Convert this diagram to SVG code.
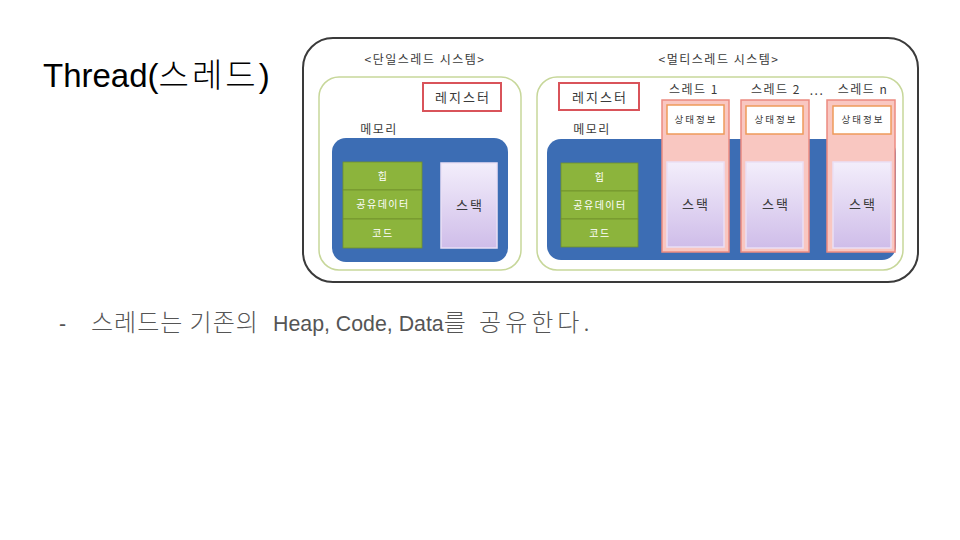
<svg xmlns="http://www.w3.org/2000/svg" width="960" height="540" viewBox="0 0 960 540">
<defs>
<linearGradient id="stk" x1="0" y1="0" x2="0" y2="1">
<stop offset="0" stop-color="#f3eefb"/>
<stop offset="1" stop-color="#cfbde9"/>
</linearGradient>
<style>
.k{font-family:"Noto Sans CJK KR","Noto Sans",sans-serif;}
.lbl{font-size:12px;fill:#3a3a3a;text-anchor:middle;letter-spacing:1.5px;}
.wt{font-size:10px;fill:#fff;text-anchor:middle;letter-spacing:1.5px;}
.outer{fill:#fff;stroke:#3a3a3a;stroke-width:2;}
.inner{fill:#fff;stroke:#c7d79a;stroke-width:1.5;}
.reg{fill:#fff;stroke:#d9535a;stroke-width:2;}
.mem{fill:#3c6db4;}
.grn{fill:#8cb43c;stroke:#6f8f2c;stroke-width:0.8;}
.stack{fill:url(#stk);stroke:#eadff5;stroke-width:1.5;}
.col{fill:#f9c7c1;stroke:#ec8b80;stroke-width:1.5;}
.st{fill:#fff;stroke:#ee9a5a;stroke-width:1.5;}
.big{font-size:13px;letter-spacing:2px;}
.sm{font-size:9.5px;letter-spacing:2px;}
.kb{font-family:"Noto Sans CJK KR",sans-serif;font-weight:300;font-size:24px;}
</style>
</defs>
<rect width="960" height="540" fill="#fff"/>
<g id="title"><text x="43" y="87" font-family="Liberation Sans, Arial, sans-serif" font-size="33" fill="#000">Thread(<tspan font-family="Noto Sans CJK KR, sans-serif" font-weight="300" letter-spacing="3">스레드</tspan>)</text></g>
<g id="outer"><rect class="outer" x="303" y="38" width="615" height="244" rx="30"/></g>
<g id="single">
<text class="k lbl" x="425" y="64" letter-spacing="2.5">&lt;단일스레드 시스템&gt;</text>
<rect class="inner" x="319" y="77" width="202" height="193" rx="20"/>
<g id="s-reg"><rect class="reg" x="423" y="83" width="78" height="28"/><text class="k lbl big" x="463" y="102">레지스터</text></g>
<text class="k lbl" x="379" y="134">메모리</text>
<g id="s-mem">
<rect class="mem" x="332" y="138" width="176" height="124" rx="14"/>
<rect class="grn" x="343" y="162" width="79" height="28"/>
<rect class="grn" x="343" y="190" width="79" height="29"/>
<rect class="grn" x="343" y="219" width="79" height="29"/>
<text class="k wt" x="383" y="180">힙</text>
<text class="k wt" x="383" y="208">공유데이터</text>
<text class="k wt" x="383" y="237">코드</text>
<rect class="stack" x="441" y="163" width="56" height="85"/>
<text class="k lbl big" x="470" y="210">스택</text>
</g>
</g>
<g id="multi">
<text class="k lbl" x="719" y="64" letter-spacing="2.5">&lt;멀티스레드 시스템&gt;</text>
<rect class="inner" x="537" y="77" width="366" height="193" rx="20"/>
<g id="m-reg"><rect class="reg" x="559" y="83" width="80" height="27"/><text class="k lbl big" x="600" y="102">레지스터</text></g>
<text class="k lbl" x="592" y="134">메모리</text>
<g id="m-mem">
<rect class="mem" x="547" y="139" width="349" height="121" rx="14"/>
<rect class="grn" x="561" y="163" width="77" height="28"/>
<rect class="grn" x="561" y="191" width="77" height="28"/>
<rect class="grn" x="561" y="219" width="77" height="28"/>
<text class="k wt" x="600" y="181">힙</text>
<text class="k wt" x="600" y="209">공유데이터</text>
<text class="k wt" x="600" y="237">코드</text>
</g>
<g id="thread1">
<text class="k lbl" x="694" y="94">스레드 1</text>
<rect class="col" x="662" y="100" width="67" height="152"/>
<rect class="st" x="667" y="105" width="57" height="29"/>
<text class="k lbl sm" x="696" y="123">상태정보</text>
<rect class="stack" x="667" y="162" width="57" height="85"/>
<text class="k lbl big" x="696" y="209">스택</text>
</g>
<g id="thread2">
<text class="k lbl" x="776" y="94">스레드 2</text>
<rect class="col" x="741" y="100" width="68" height="152"/>
<rect class="st" x="746" y="106" width="57" height="28"/>
<text class="k lbl sm" x="776" y="123">상태정보</text>
<rect class="stack" x="746" y="162" width="57" height="86"/>
<text class="k lbl big" x="776" y="209">스택</text>
</g>
<text class="k lbl" x="817" y="95" letter-spacing="0">...</text>
<g id="threadn">
<text class="k lbl" x="863" y="94">스레드 n</text>
<rect class="col" x="827" y="100" width="68" height="152"/>
<rect class="st" x="833" y="106" width="58" height="28"/>
<text class="k lbl sm" x="863" y="123">상태정보</text>
<rect class="stack" x="833" y="162" width="58" height="86"/>
<text class="k lbl big" x="863" y="209">스택</text>
</g>
</g>
<g id="bullet">
<text x="59" y="331" font-family="Liberation Sans, Arial, sans-serif" font-size="21.33" fill="#555">-</text>
<text y="331" font-family="Liberation Sans, Arial, &quot;Noto Sans CJK KR&quot;, sans-serif" font-size="21.33" fill="#555"><tspan class="kb" x="91" letter-spacing="1">스레드는 기존의</tspan><tspan x="273">Heap, Code, Data</tspan><tspan class="kb" letter-spacing="4">를 공유한다.</tspan></text>
</g>
</svg>
